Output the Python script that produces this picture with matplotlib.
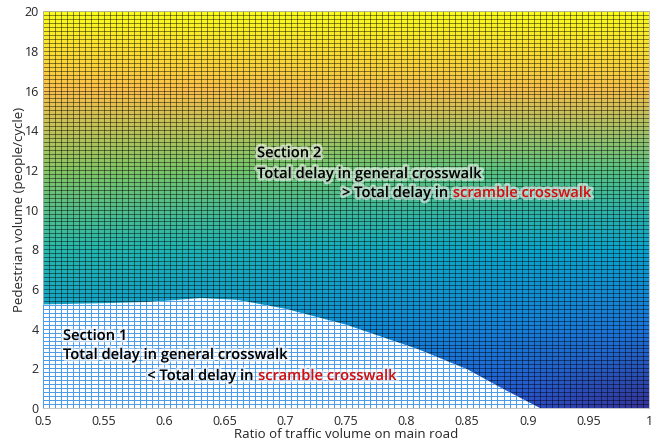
import numpy as np
import matplotlib
matplotlib.use("Agg")
import matplotlib.pyplot as plt
import matplotlib.patheffects as pe
from matplotlib.colors import LinearSegmentedColormap
from matplotlib.patches import Polygon

# coarse colour levels (0 = dark purple, 1 = yellow)
x_coarse = [0.5, 0.625, 0.75, 0.875, 1.0]
y_coarse = [0, 4, 8, 12, 16, 20]
z_coarse = [
    [0.24, 0.20, 0.16, 0.11, 0.02],
    [0.35, 0.32, 0.29, 0.25, 0.21],
    [0.48, 0.45, 0.42, 0.39, 0.37],
    [0.63, 0.61, 0.59, 0.57, 0.56],
    [0.80, 0.80, 0.79, 0.79, 0.79],
    [1.00, 1.00, 1.00, 1.00, 1.00],
]

# border of section 1 (total delay general < scramble)
border_x = [0.50, 0.55, 0.59, 0.63, 0.66, 0.70, 0.75, 0.81, 0.85, 0.88, 0.91]
border_y = [5.22, 5.28, 5.35, 5.54, 5.45, 5.00, 4.20, 2.95, 1.95, 0.95, 0.00]

xticks = [0.5, 0.55, 0.6, 0.65, 0.7, 0.75, 0.8, 0.85, 0.9, 0.95, 1]
xtick_labels = ["0.5", "0.55", "0.6", "0.65", "0.7", "0.75", "0.8", "0.85", "0.9", "0.95", "1"]
yticks = list(range(0, 21, 2))

parula = LinearSegmentedColormap.from_list("parula_like", [
    (0.00, (0.22, 0.17, 0.55)),
    (0.12, (0.16, 0.34, 0.83)),
    (0.25, (0.08, 0.51, 0.86)),
    (0.38, (0.03, 0.65, 0.80)),
    (0.50, (0.18, 0.74, 0.64)),
    (0.60, (0.44, 0.78, 0.44)),
    (0.70, (0.74, 0.76, 0.27)),
    (0.80, (0.98, 0.75, 0.29)),
    (0.90, (0.99, 0.85, 0.24)),
    (1.00, (0.98, 0.99, 0.10)),
])

plt.rcParams['font.family'] = ['Open Sans', 'DejaVu Sans']

fig = plt.figure(figsize=(6.57, 4.4), dpi=100)
ax = fig.add_axes([0.0654, 0.0727, 0.9224, 0.902])

Xc, Yc = np.meshgrid(x_coarse, y_coarse)
ax.pcolormesh(Xc, Yc, np.array(z_coarse), shading='gouraud', cmap=parula, vmin=0, vmax=1)

# surface mesh lines
mesh_x = np.linspace(0.5, 1.0, 101)
mesh_y = np.linspace(0, 20, 101)
ax.vlines(mesh_x, 0, 20, color='black', lw=0.5, alpha=0.65, zorder=2)
ax.hlines(mesh_y, 0.5, 1.0, color='black', lw=0.5, alpha=0.65, zorder=2)

# section 1 region: white faces with blue mesh
verts = [(0.5, 0)] + list(zip(border_x, border_y)) + [(border_x[-1], 0)]
region = Polygon(verts, closed=True, facecolor='white', edgecolor='none', zorder=3)
ax.add_patch(region)
bv = ax.vlines(mesh_x, 0, 20, color='#4a9ae8', lw=0.7, zorder=4)
bh = ax.hlines(mesh_y, 0.5, 1.0, color='#4a9ae8', lw=0.7, zorder=4)
bv.set_clip_path(region)
bh.set_clip_path(region)

ax.set_xlim(0.5, 1.0)
ax.set_ylim(0, 20)
ax.set_xticks(xticks)
ax.set_xticklabels(xtick_labels)
ax.set_yticks(yticks)
ax.tick_params(axis='x', length=0, labelsize=9, colors='#262626', pad=5)
ax.tick_params(axis='y', length=0, labelsize=9, colors='#262626', pad=3)
for s in ax.spines.values():
    s.set_color('#bbbbbb')
    s.set_linewidth(0.6)
ax.set_xlabel("Ratio of traffic volume on main road", fontsize=9.5, color='#262626', labelpad=0)
ax.set_ylabel("Pedestrian volume (people/cycle)", fontsize=9.5, color='#262626', labelpad=-1)

glow = [pe.withStroke(linewidth=4, foreground='white', alpha=0.55)]
fs = 10.6
tkw = dict(fontsize=fs, fontweight='semibold', color='black', path_effects=glow,
           zorder=6, va='baseline', ha='left')


def two_tone(x, y, first, second):
    t = ax.text(x, y, first, **tkw)
    ax.annotate(second, xy=(1, 0), xycoords=t, fontsize=fs, fontweight='semibold',
                color='#d01010', path_effects=glow, zorder=6, va='bottom', ha='left')


ax.text(0.5165, 3.43, "Section 1", **tkw)
ax.text(0.5165, 2.47, "Total delay in general crosswalk", **tkw)
two_tone(0.586, 1.41, "< Total delay in ", "scramble crosswalk")

ax.text(0.6766, 12.64, "Section 2", **tkw)
ax.text(0.6766, 11.59, "Total delay in general crosswalk", **tkw)
two_tone(0.7467, 10.63, "> Total delay in ", "scramble crosswalk")

fig.savefig("out.png", dpi=100)
